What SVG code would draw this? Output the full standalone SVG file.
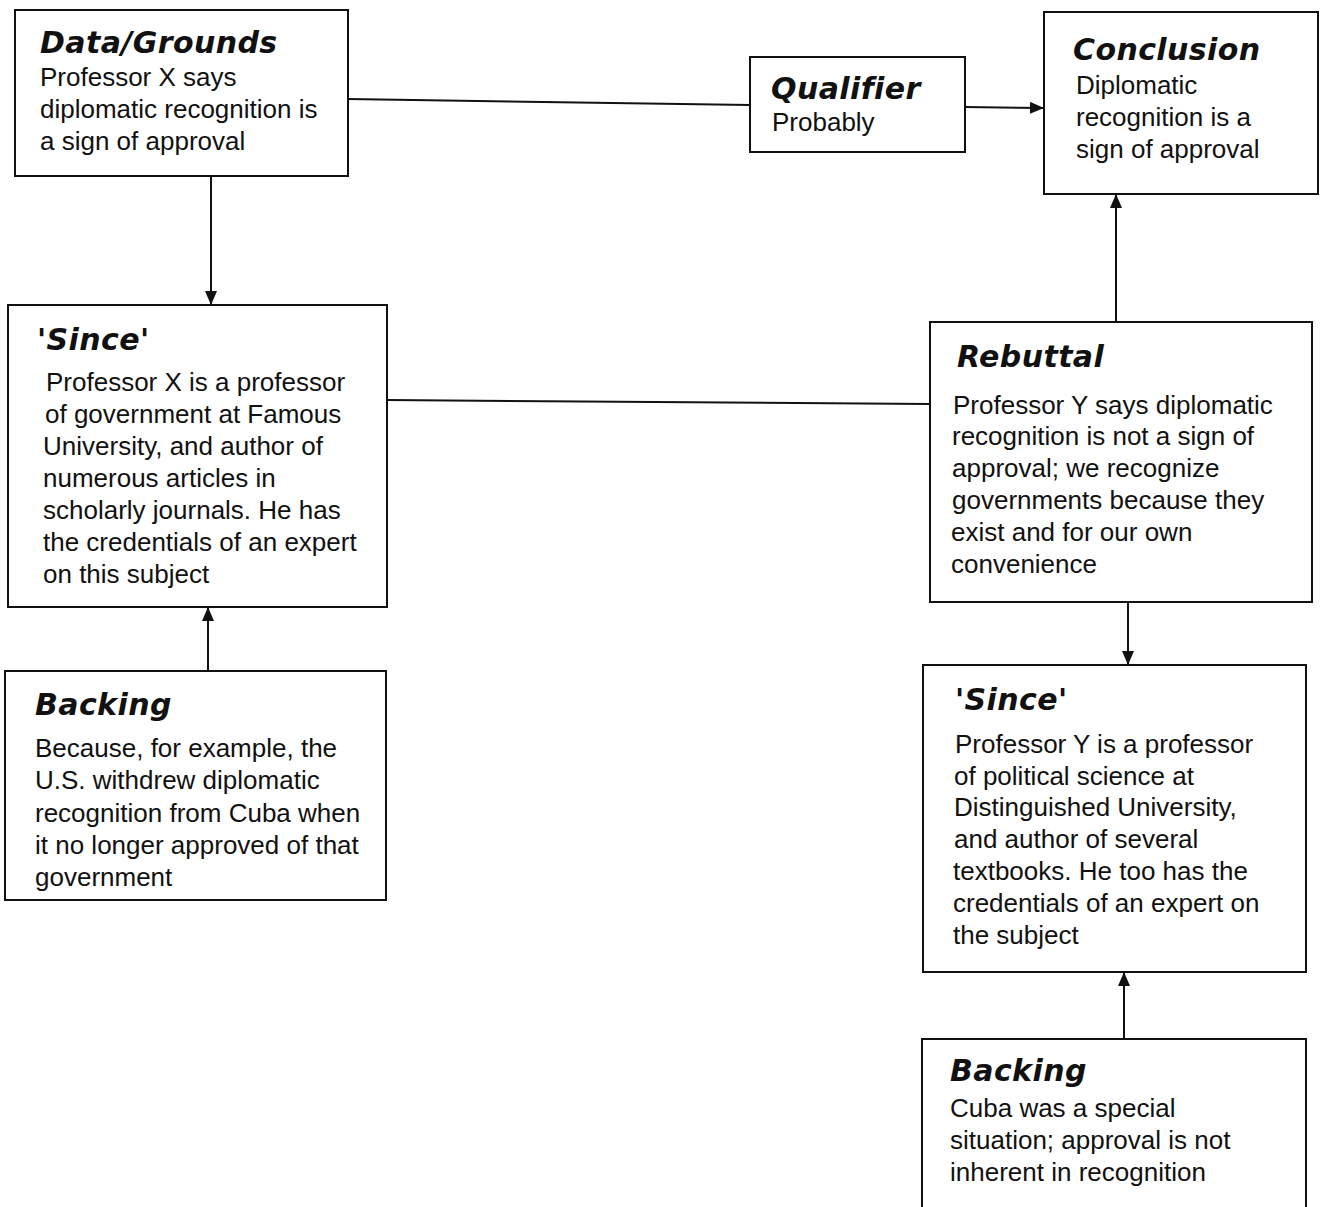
<svg xmlns="http://www.w3.org/2000/svg" width="1322" height="1207" viewBox="0 0 1322 1207">
<style>
.box{fill:#fff;stroke:#111;stroke-width:2}
.t{font-family:"DejaVu Sans","Liberation Sans",sans-serif;font-weight:bold;font-style:italic;font-size:30px;letter-spacing:0.4px;fill:#111}
.b{font-family:"Liberation Sans",Arial,sans-serif;font-size:26px;fill:#111}
.c{stroke:#111;stroke-width:2;fill:none}
</style>
<defs>
<marker id="ah" markerWidth="14" markerHeight="12" refX="13" refY="6" orient="auto" markerUnits="userSpaceOnUse" viewBox="0 0 14 12">
<path d="M0,0 L14,6 L0,12 Z" fill="#111"/>
</marker>
</defs>
<rect width="1322" height="1207" fill="#fff"/>
<g id="connectors">
<path class="c" d="M348,99 L750,105"/>
<path class="c" d="M965,107 L1043,108" marker-end="url(#ah)"/>
<path class="c" d="M211,176 L211,304" marker-end="url(#ah)"/>
<path class="c" d="M1116,322 L1116,195" marker-end="url(#ah)"/>
<path class="c" d="M387,400 L930,404"/>
<path class="c" d="M1128,602 L1128,664" marker-end="url(#ah)"/>
<path class="c" d="M208,670 L208,608" marker-end="url(#ah)"/>
<path class="c" d="M1124,1038 L1124,973" marker-end="url(#ah)"/>
</g>
<g id="data">
<rect class="box" x="15" y="10" width="333" height="166"/>
<text class="t" x="40" y="53">Data/Grounds</text>
<text class="b" x="40" y="86">Professor X says</text>
<text class="b" x="40" y="118">diplomatic recognition is</text>
<text class="b" x="40" y="150">a sign of approval</text>
</g>
<g id="qualifier">
<rect class="box" x="750" y="57" width="215" height="95"/>
<text class="t" x="771" y="99">Qualifier</text>
<text class="b" x="772" y="131">Probably</text>
</g>
<g id="conclusion">
<rect class="box" x="1044" y="12" width="274" height="182"/>
<text class="t" x="1073" y="60">Conclusion</text>
<text class="b" x="1076" y="94">Diplomatic</text>
<text class="b" x="1076" y="126">recognition is a</text>
<text class="b" x="1076" y="158">sign of approval</text>
</g>
<g id="since-left">
<rect class="box" x="8" y="305" width="379" height="302"/>
<text class="t" x="37" y="350">'Since'</text>
<text class="b" x="46" y="391">Professor X is a professor</text>
<text class="b" x="45" y="423">of government at Famous</text>
<text class="b" x="43" y="455">University, and author of</text>
<text class="b" x="43" y="487">numerous articles in</text>
<text class="b" x="43" y="519">scholarly journals.  He has</text>
<text class="b" x="43" y="551">the credentials of an expert</text>
<text class="b" x="43" y="583">on this subject</text>
</g>
<g id="rebuttal">
<rect class="box" x="930" y="322" width="382" height="280"/>
<text class="t" x="957" y="367">Rebuttal</text>
<text class="b" x="953" y="414">Professor Y says diplomatic</text>
<text class="b" x="952" y="445">recognition is not a sign of</text>
<text class="b" x="952" y="477">approval; we recognize</text>
<text class="b" x="952" y="509">governments because they</text>
<text class="b" x="951" y="541">exist and for our own</text>
<text class="b" x="951" y="573">convenience</text>
</g>
<g id="backing-left">
<rect class="box" x="5" y="671" width="381" height="229"/>
<text class="t" x="35" y="715">Backing</text>
<text class="b" x="35" y="757">Because, for example, the</text>
<text class="b" x="35" y="789">U.S. withdrew diplomatic</text>
<text class="b" x="35" y="822">recognition from Cuba when</text>
<text class="b" x="35" y="854">it no longer approved of that</text>
<text class="b" x="35" y="886">government</text>
</g>
<g id="since-right">
<rect class="box" x="923" y="665" width="383" height="307"/>
<text class="t" x="955" y="710">'Since'</text>
<text class="b" x="955" y="753">Professor Y is a professor</text>
<text class="b" x="954" y="785">of political science at</text>
<text class="b" x="954" y="816">Distinguished University,</text>
<text class="b" x="954" y="848">and author of several</text>
<text class="b" x="953" y="880">textbooks.  He too has the</text>
<text class="b" x="953" y="912">credentials of an expert on</text>
<text class="b" x="953" y="944">the subject</text>
</g>
<g id="backing-right">
<rect class="box" x="922" y="1039" width="384" height="175"/>
<text class="t" x="950" y="1081">Backing</text>
<text class="b" x="950" y="1117">Cuba was a special</text>
<text class="b" x="950" y="1149">situation; approval is not</text>
<text class="b" x="950" y="1181">inherent in recognition</text>
</g>
</svg>
